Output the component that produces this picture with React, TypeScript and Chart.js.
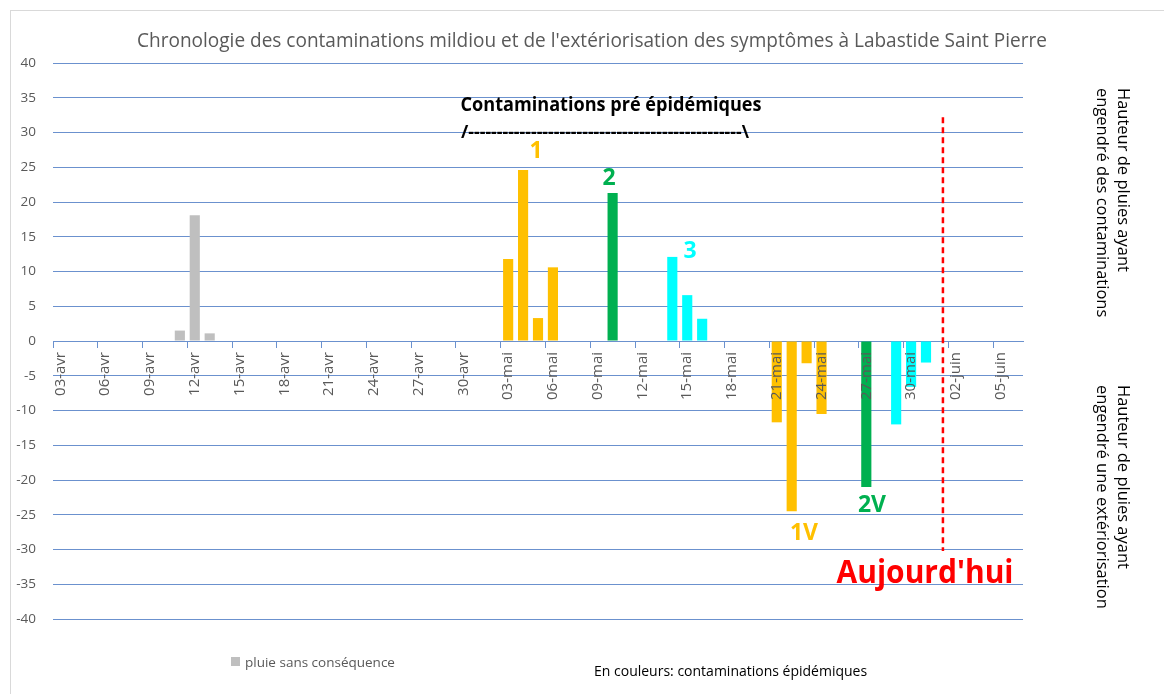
import React, { useEffect, useRef } from 'react';
import { Chart, registerables } from 'chart.js';

Chart.register(...registerables);

const categories = [
  '03-avr', '04-avr', '05-avr', '06-avr', '07-avr', '08-avr', '09-avr', '10-avr', '11-avr', '12-avr',
  '13-avr', '14-avr', '15-avr', '16-avr', '17-avr', '18-avr', '19-avr', '20-avr', '21-avr', '22-avr',
  '23-avr', '24-avr', '25-avr', '26-avr', '27-avr', '28-avr', '29-avr', '30-avr',
  '01-mai', '02-mai', '03-mai', '04-mai', '05-mai', '06-mai', '07-mai', '08-mai', '09-mai', '10-mai',
  '11-mai', '12-mai', '13-mai', '14-mai', '15-mai', '16-mai', '17-mai', '18-mai', '19-mai', '20-mai',
  '21-mai', '22-mai', '23-mai', '24-mai', '25-mai', '26-mai', '27-mai', '28-mai', '29-mai', '30-mai',
  '31-mai', '01-juin', '02-juin', '03-juin', '04-juin', '05-juin', '06-juin',
];

const grayDates = ['11-avr', '12-avr', '13-avr'];
const grayValues = [1.5, 18.1, 1.1];

const yellowDates = ['03-mai', '04-mai', '05-mai', '06-mai', '21-mai', '22-mai', '23-mai', '24-mai'];
const yellowValues = [11.8, 24.6, 3.3, 10.6, -11.7, -24.5, -3.2, -10.5];

const greenDates = ['10-mai', '27-mai'];
const greenValues = [21.3, -21.0];

const cyanDates = ['14-mai', '15-mai', '16-mai', '29-mai', '30-mai', '31-mai'];
const cyanValues = [12.1, 6.6, 3.2, -12.0, -6.6, -3.1];

const todayDate = '01-juin';

const FONT = "'Open Sans', 'Noto Sans', sans-serif";
const BLUE = '#6B91CE';
const GRAY_TEXT = '#595959';

function pts(dates: string[], values: number[]) {
  return dates.map((d, i) => ({ x: d, y: values[i] }));
}

function drawText(
  ctx: CanvasRenderingContext2D,
  s: string,
  x: number,
  y: number,
  size: number,
  color: string,
  opts: { weight?: string; align?: CanvasTextAlign; maxWidth?: number; baseline?: CanvasTextBaseline } = {}
) {
  ctx.font = `${opts.weight || 'normal'} ${size}px ${FONT}`;
  ctx.fillStyle = color;
  ctx.textAlign = opts.align || 'center';
  ctx.textBaseline = opts.baseline || 'alphabetic';
  if (opts.maxWidth && ctx.measureText(s).width > opts.maxWidth) {
    ctx.fillText(s, x, y, opts.maxWidth);
  } else {
    ctx.fillText(s, x, y);
  }
}

const annotations = {
  id: 'annotations',
  afterDraw(chart: any) {
    const { ctx, scales } = chart;
    const xs = scales.x;
    const ys = scales.y;
    ctx.save();

    // outer frame
    ctx.strokeStyle = '#D9D9D9';
    ctx.lineWidth = 1;
    ctx.strokeRect(10.5, 10.5, 1200, 1000);

    // title
    drawText(ctx, "Chronologie des contaminations mildiou et de l'extériorisation des symptômes à Labastide Saint Pierre",
      592, 47, 19.5, GRAY_TEXT, { maxWidth: 910 });

    // pre-epidemic header
    drawText(ctx, 'Contaminations pré épidémiques', 611, 111, 19, '#000000', { weight: 'bold', maxWidth: 301 });
    drawText(ctx, '/' + '-'.repeat(48) + '\\', 461, 138, 18, '#000000', { weight: 'bold', align: 'left', maxWidth: 288 });

    // numbers
    drawText(ctx, '1', 536, 158, 23, '#FFC000', { weight: 'bold' });
    drawText(ctx, '2', 609, 185, 23, '#00B050', { weight: 'bold' });
    drawText(ctx, '3', 690, 258, 23, '#00FFFF', { weight: 'bold' });
    drawText(ctx, '1V', 804, 540, 23, '#FFC000', { weight: 'bold' });
    drawText(ctx, '2V', 872, 512, 23, '#00B050', { weight: 'bold' });

    // today line
    const tx = xs.getPixelForValue(categories.indexOf(todayDate)) + 2;
    ctx.strokeStyle = '#FF0000';
    ctx.lineWidth = 2.5;
    ctx.setLineDash([6, 4]);
    ctx.beginPath();
    ctx.moveTo(tx, ys.getPixelForValue(32.2));
    ctx.lineTo(tx, ys.getPixelForValue(-30.2));
    ctx.stroke();
    ctx.setLineDash([]);
    drawText(ctx, "Aujourd'hui", 925, 583, 33, '#FF0000', { weight: 'bold', maxWidth: 177 });

    // right-side rotated labels
    const rot = (s: string, cx: number, y0: number) => {
      ctx.save();
      ctx.translate(cx, y0);
      ctx.rotate(Math.PI / 2);
      drawText(ctx, s, 0, 0, 16.5, '#000000', { align: 'left', baseline: 'middle' });
      ctx.restore();
    };
    rot('Hauteur de pluies ayant', 1123, 88);
    rot('engendré des contaminations', 1102, 88);
    rot('Hauteur de pluies ayant', 1123, 385);
    rot('engendré une extériorisation', 1102, 385);

    // legend
    ctx.fillStyle = '#BFBFBF';
    ctx.fillRect(231, 657, 9, 9);
    drawText(ctx, 'pluie sans conséquence', 245, 667, 13.5, GRAY_TEXT, { align: 'left', maxWidth: 157 });
    drawText(ctx, 'En couleurs: contaminations épidémiques', 594, 676, 14, '#000000', { align: 'left', maxWidth: 281 });

    ctx.restore();
  },
};

export default function App() {
  const ref = useRef<HTMLCanvasElement | null>(null);

  useEffect(() => {
    if (!ref.current) return;
    const barOpts = { barPercentage: 0.68, categoryPercentage: 1, grouped: false, borderWidth: 0 };
    const chart = new Chart(ref.current, {
      type: 'bar',
      data: {
        labels: categories,
        datasets: [
          { label: 'pluie sans conséquence', data: pts(grayDates, grayValues) as any, backgroundColor: '#BFBFBF', ...barOpts },
          { label: 'jaune', data: pts(yellowDates, yellowValues) as any, backgroundColor: '#FFC000', ...barOpts },
          { label: 'vert', data: pts(greenDates, greenValues) as any, backgroundColor: '#00B050', ...barOpts },
          { label: 'cyan', data: pts(cyanDates, cyanValues) as any, backgroundColor: '#00FFFF', ...barOpts },
        ],
      },
      options: {
        animation: false,
        responsive: true,
        maintainAspectRatio: false,
        layout: { padding: { left: 0, top: 63, right: 141, bottom: 75 } },
        plugins: {
          legend: { display: false },
          title: { display: false },
          tooltip: { enabled: false },
        },
        scales: {
          x: {
            type: 'category',
            position: { y: 0 } as any,
            offset: true,
            grid: {
              display: true,
              drawOnChartArea: false,
              drawTicks: true,
              tickLength: 6,
              offset: true,
              lineWidth: 1,
              color: (c: any) => (c.index % 3 === 0 ? BLUE : 'rgba(0,0,0,0)'),
            },
            border: { display: true, color: BLUE, width: 1 },
            ticks: {
              autoSkip: false,
              maxRotation: 90,
              minRotation: 90,
              padding: 5,
              color: GRAY_TEXT,
              font: { family: FONT, size: 15 },
              z: 1,
              callback: (_v: any, i: number) => (i % 3 === 0 ? categories[i] : ''),
            },
          },
          y: {
            min: -40,
            max: 40,
            grid: { color: BLUE, drawTicks: false, lineWidth: 1 },
            border: { display: false },
            ticks: {
              stepSize: 5,
              padding: 17,
              color: GRAY_TEXT,
              font: { family: FONT, size: 13.5 },
            },
            afterFit: (s: any) => {
              s.width = 53;
            },
          },
        },
      },
      plugins: [annotations],
    });
    return () => chart.destroy();
  }, []);

  return (
    <div style={{ position: 'fixed', left: 0, top: 0, width: 1164, height: 694, background: '#FFFFFF' }}>
      <canvas ref={ref} />
    </div>
  );
}
